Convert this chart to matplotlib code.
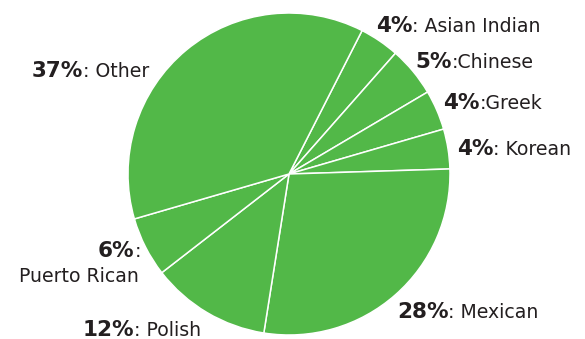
import matplotlib
matplotlib.use("Agg")
import matplotlib.pyplot as plt

plt.rcParams["font.family"] = ["DejaVu Sans"]

GREEN = "#52b848"
INK = "#231f20"

groups = ["Asian Indian", "Chinese", "Greek", "Korean",
          "Mexican", "Polish", "Puerto Rican", "Other"]
shares = [4, 5, 4, 4, 28, 12, 6, 37]
# separator after the colon, as printed on each label
seps = [" ", "", "", " ", " ", " ", "\n", " "]

# label anchor: left edge / baseline in figure pixels from top-left
label_pos = [
    (376, 32), (415, 68), (443, 109), (457, 155),
    (397, 318), (83, 336), (98, 257), (32, 77),
]

W, H = 585, 339
fig = plt.figure(figsize=(W / 100, H / 100), dpi=100)
cx, cy, r = 289, 174, 161
ax = fig.add_axes([(cx - r) / W, (H - cy - r) / H, 2 * r / W, 2 * r / H])
ax.pie(shares, colors=[GREEN] * len(shares), startangle=63, counterclock=False,
       radius=1, wedgeprops=dict(edgecolor="white", linewidth=1.1))
ax.set_xlim(-1, 1)
ax.set_ylim(-1, 1)
ax.set_aspect("equal")
ax.axis("off")

BOLD, REG = 15.5, 13.6

for name, pct, sep, (px, py) in zip(groups, shares, seps, label_pos):
    y = H - py
    t = fig.text(px, y, f"{pct}%", fontsize=BOLD, fontweight="bold",
                 color=INK, ha="left", va="baseline", transform=None)
    if sep == "\n":
        # name goes on its own line below, right edge under the colon
        ax.annotate(":", xy=(1, y), xycoords=(t, "figure pixels"),
                    fontsize=REG, color=INK, ha="left", va="baseline",
                    annotation_clip=False)
        fig.text(139, y - 25, name, fontsize=REG, color=INK, ha="right",
                 va="baseline", transform=None)
        continue
    ax.annotate(":" + sep + name, xy=(1, y), xycoords=(t, "figure pixels"),
                fontsize=REG, color=INK, ha="left", va="baseline",
                annotation_clip=False)

fig.savefig("out.png", dpi=100, facecolor="white")
